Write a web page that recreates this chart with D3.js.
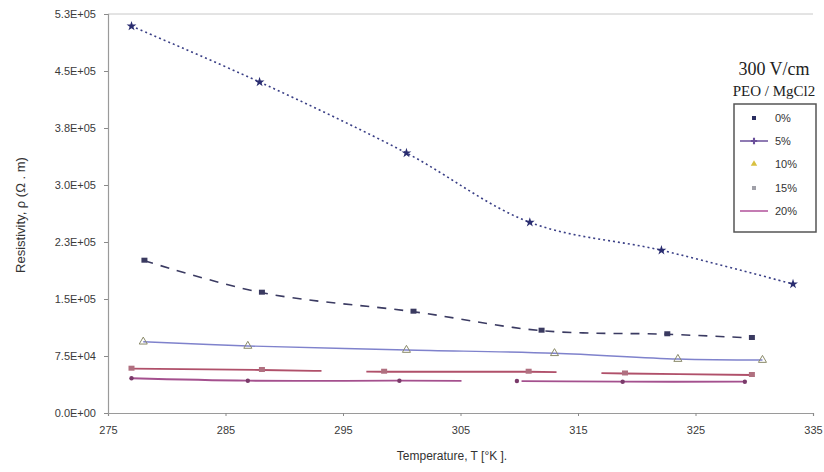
<!DOCTYPE html>
<html><head><meta charset="utf-8">
<script src="https://cdn.jsdelivr.net/npm/d3@7"></script>
<style>body{margin:0;background:#fff;}svg{display:block;}</style>
</head><body>
<script>
// ---- data ----
const seriesNames = ["0%", "5%", "10%", "15%", "20%"];
const temps0 = [277.0, 287.9, 300.4, 310.9, 322.1, 333.3];
const rho0   = [509000, 435500, 342100, 250900, 214100, 169700];
const temps5 = [278.1, 288.1, 301.0, 311.9, 322.6, 329.8];
const rho5   = [200400, 158300, 133300, 108300, 103600, 98700];
const temps10 = [278.0, 286.9, 300.4, 313.0, 323.5, 330.7];
const rho10   = [93800, 88200, 82900, 78600, 71000, 69700];
const temps15 = [277.0, 288.1, 298.5, 310.8, 319.0, 329.8];
const rho15   = [58300, 56600, 54300, 54300, 52000, 50000];
const temps20 = [277.0, 286.9, 299.8, 309.8, 318.8, 329.2];
const rho20   = [45700, 42500, 42500, 42100, 41200, 41200];
const xTicks = [275, 285, 295, 305, 315, 325, 335];
const yTicks = [0, 75000, 150000, 225000, 300000, 375000, 450000, 525000];
const yTickLabels = ["0.0E+00","7.5E+04","1.5E+05","2.3E+05","3.0E+05","3.8E+05","4.5E+05","5.3E+05"];

const W = 824, H = 472;
const svg = d3.select("body").append("svg").attr("width", W).attr("height", H);
const x = d3.scaleLinear().domain([275, 335]).range([108, 813]);
const y = d3.scaleLinear().domain([0, 525000]).range([413, 14]);

// plot frame top line
svg.append("line").attr("x1", 108).attr("x2", 813).attr("y1", y(525000)).attr("y2", y(525000))
  .attr("stroke", "#c8c8c8").attr("stroke-width", 1);

// axes
const gx = svg.append("g").attr("transform", `translate(0,${y(0)})`)
  .call(d3.axisBottom(x).tickValues(xTicks).tickSize(3).tickPadding(10).tickFormat(d3.format("d")));
const gy = svg.append("g").attr("transform", `translate(${x(275)},0)`)
  .call(d3.axisLeft(y).tickValues(yTicks).tickSize(4).tickPadding(8).tickFormat((d, i) => yTickLabels[i]));
[gx, gy].forEach(g => {
  g.select(".domain").attr("stroke", "#9a9a9a").attr("stroke-width", 1.2);
  g.selectAll(".tick line").attr("stroke", "#8a8a8a");
  g.selectAll("text").attr("font-family", "Arial, 'Liberation Sans', sans-serif")
    .attr("font-size", 11).attr("fill", "#3a3a3a");
});

// axis titles
svg.append("text").attr("x", 452).attr("y", 460).attr("text-anchor", "middle")
  .attr("font-family", "Arial, 'Liberation Sans', sans-serif").attr("font-size", 12).attr("fill", "#333")
  .text("Temperature, T [°K ].");
svg.append("text").attr("transform", "translate(25,215) rotate(-90)").attr("text-anchor", "middle")
  .attr("font-family", "Arial, 'Liberation Sans', sans-serif").attr("font-size", 13).attr("fill", "#333")
  .text("Resistivity, ρ  (Ω . m)");

// series
const series = [
  {t: temps0, v: rho0, color: "#3a3f86", dash: "2,3", width: 1.6, marker: "star"},
  {t: temps5, v: rho5, color: "#3b3b62", dash: "9,8", width: 1.6, marker: "square"},
  {t: temps10, v: rho10, color: "#7f82cc", dash: null, width: 1.4, marker: "triangle"},
  {t: temps15, v: rho15, color: "#b0506a", dash: "190,45", width: 1.8, marker: "square"},
  {t: temps20, v: rho20, color: "#a4508e", dash: "330,60", width: 1.8, marker: "dot"}
];
const line = d3.line().curve(d3.curveCatmullRom.alpha(0.5));
series.forEach((s, si) => {
  const pts = s.t.map((t, i) => [x(t), y(s.v[i])]);
  svg.append("path").attr("d", line(pts)).attr("fill", "none")
    .attr("stroke", s.color).attr("stroke-width", s.width)
    .attr("stroke-dasharray", s.dash);
  const g = svg.append("g");
  pts.forEach(p => {
    if (s.marker === "star") {
      g.append("path").attr("d", d3.symbol(d3.symbolStar, 30)()).attr("transform", `translate(${p[0]},${p[1]})`)
        .attr("fill", "#2a2d70");
    } else if (s.marker === "square") {
      g.append("rect").attr("x", p[0] - 3).attr("y", p[1] - 3).attr("width", 6).attr("height", 5)
        .attr("fill", si === 1 ? "#3a3a60" : "#b07080");
    } else if (s.marker === "triangle") {
      g.append("path").attr("d", d3.symbol(d3.symbolTriangle, 28)()).attr("transform", `translate(${p[0]},${p[1]})`)
        .attr("fill", "none").attr("stroke", "#8a8a6a").attr("stroke-width", 1);
    } else {
      g.append("circle").attr("cx", p[0]).attr("cy", p[1]).attr("r", 2.2).attr("fill", "#7a3a6a");
    }
  });
});

// legend title
svg.append("text").attr("x", 774).attr("y", 75).attr("text-anchor", "middle")
  .attr("font-family", "'Liberation Serif', 'Times New Roman', serif").attr("font-size", 18).attr("fill", "#222")
  .text("300 V/cm");
svg.append("text").attr("x", 774).attr("y", 96).attr("text-anchor", "middle")
  .attr("font-family", "'Liberation Serif', 'Times New Roman', serif").attr("font-size", 15).attr("fill", "#222")
  .text("PEO / MgCl2");

// legend box
svg.append("rect").attr("x", 734).attr("y", 104).attr("width", 82).attr("height", 128)
  .attr("fill", "#fff").attr("stroke", "#555").attr("stroke-width", 1.5);
const legRows = [118, 141, 164, 188, 211];
const lg = svg.append("g");
seriesNames.forEach((name, i) => {
  const ry = legRows[i];
  if (i === 1) {
    lg.append("line").attr("x1", 740).attr("x2", 768).attr("y1", ry).attr("y2", ry).attr("stroke", "#6a4f9a").attr("stroke-width", 1.5);
    lg.append("path").attr("d", d3.symbol(d3.symbolCross, 22)()).attr("transform", `translate(754,${ry})`).attr("fill", "#6a4f9a");
  } else if (i === 4) {
    lg.append("line").attr("x1", 740).attr("x2", 768).attr("y1", ry).attr("y2", ry).attr("stroke", "#b0509a").attr("stroke-width", 1.5);
  } else if (i === 0) {
    lg.append("rect").attr("x", 752).attr("y", ry - 2).attr("width", 4).attr("height", 4).attr("fill", "#2a2d60");
  } else if (i === 2) {
    lg.append("path").attr("d", d3.symbol(d3.symbolTriangle, 18)()).attr("transform", `translate(754,${ry})`).attr("fill", "#d8c040");
  } else {
    lg.append("rect").attr("x", 752).attr("y", ry - 2).attr("width", 4).attr("height", 4).attr("fill", "#a0a0a8");
  }
  lg.append("text").attr("x", 775).attr("y", ry + 4).attr("font-family", "Arial, 'Liberation Sans', sans-serif")
    .attr("font-size", 11).attr("fill", "#333").text(name);
});
</script>
</body></html>
